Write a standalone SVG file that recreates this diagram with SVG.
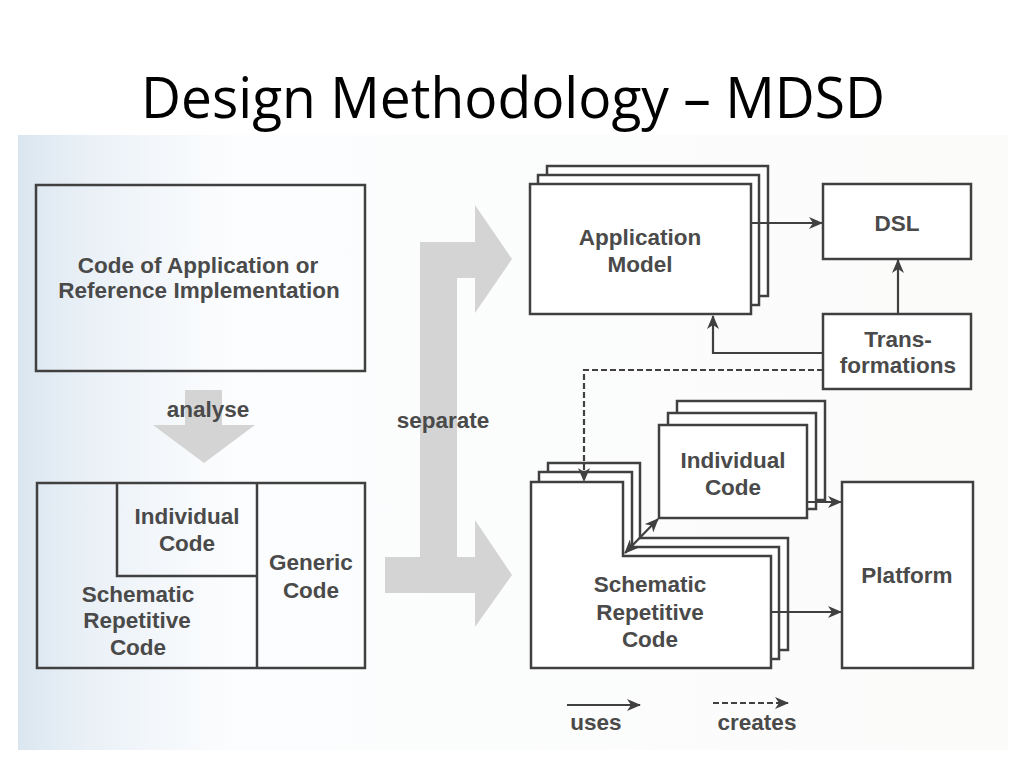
<svg xmlns="http://www.w3.org/2000/svg" width="1024" height="768" viewBox="0 0 1024 768">
<defs>
<linearGradient id="scan" x1="0" y1="0" x2="1" y2="0">
<stop offset="0" stop-color="#dae6ef"/>
<stop offset="0.05" stop-color="#e6eef5"/>
<stop offset="0.13" stop-color="#f2f6fa"/>
<stop offset="0.22" stop-color="#fcfdfe"/>
<stop offset="1" stop-color="#fbfbfa"/>
</linearGradient>
<marker id="ah" viewBox="0 0 14 12" refX="13" refY="6" markerWidth="14" markerHeight="12" markerUnits="userSpaceOnUse" orient="auto-start-reverse">
<path d="M0,0 L14,6 L0,12 L4,6 z" fill="#404040"/>
</marker>
</defs>
<style>
.box{fill:#ffffff;stroke:#404040;stroke-width:2.5}
.open{fill:none;stroke:#404040;stroke-width:2.5}
.lbl{font-family:"Liberation Sans",Arial,sans-serif;font-weight:bold;font-size:22.5px;fill:#4a4a4a;text-anchor:middle}
.big{fill:#d4d4d4}
.con{fill:none;stroke:#404040;stroke-width:2.2}
.dash{stroke-dasharray:6 3}
.title{font-family:"Open Sans","Noto Sans",sans-serif;font-size:56px;fill:#000000;text-anchor:middle}
</style>
<rect x="0" y="0" width="1024" height="768" fill="#ffffff"/>
<text class="title" x="513" y="118" textLength="744" lengthAdjust="spacingAndGlyphs">Design Methodology – MDSD</text>
<rect x="18" y="135" width="990" height="615" fill="url(#scan)"/>

<g id="code-of-application">
<rect class="open" x="36" y="185" width="329" height="186"/>
<text class="lbl" x="198" y="273">Code of Application or</text>
<text class="lbl" x="199" y="298">Reference Implementation</text>
</g>

<g id="analyse-arrow">
<path class="big" d="M185,390 L222,390 L222,425 L255,425 L204,463 L153,425 L185,425 Z"/>
<text class="lbl" x="208" y="417">analyse</text>
</g>

<g id="analysed-code">
<rect class="open" x="37" y="483" width="328" height="185"/>
<line class="open" x1="257" y1="483" x2="257" y2="668"/>
<polyline class="open" points="117,483 117,576 257,576"/>
<text class="lbl" x="187" y="524">Individual</text>
<text class="lbl" x="187" y="551">Code</text>
<text class="lbl" x="311" y="570">Generic</text>
<text class="lbl" x="311" y="598">Code</text>
<text class="lbl" x="138" y="602">Schematic</text>
<text class="lbl" x="137" y="628">Repetitive</text>
<text class="lbl" x="138" y="655">Code</text>
</g>

<g id="separate-arrow">
<path class="big" d="M420,242 L475,242 L475,205 L512,259 L475,313 L475,278 L457,278 L457,557 L475,557 L475,520 L512,575 L475,627 L475,593 L385,593 L385,557 L420,557 Z"/>
<text class="lbl" x="443" y="428">separate</text>
</g>

<g id="application-model">
<rect class="box" x="547" y="166" width="221" height="130"/>
<rect class="box" x="538" y="175" width="221" height="130"/>
<rect class="box" x="530" y="184" width="221" height="130"/>
<text class="lbl" x="640" y="245">Application</text>
<text class="lbl" x="640" y="272">Model</text>
</g>

<g id="dsl">
<rect class="box" x="823" y="184" width="148" height="75"/>
<text class="lbl" x="897" y="231">DSL</text>
</g>

<g id="transformations">
<rect class="box" x="823" y="314" width="148" height="75"/>
<text class="lbl" x="898" y="347">Trans-</text>
<text class="lbl" x="898" y="373">formations</text>
</g>

<g id="individual-code">
<rect class="box" x="677" y="401" width="148" height="99"/>
<rect class="box" x="668" y="413" width="148" height="96"/>
<rect class="box" x="659" y="425" width="148" height="93"/>
<text class="lbl" x="733" y="468">Individual</text>
<text class="lbl" x="733" y="495">Code</text>
</g>

<g id="schematic-code">
<path class="box" d="M548,463 L640,463 L640,538 L788,538 L788,650 L548,650 Z"/>
<path class="box" d="M539,472 L632,472 L632,547 L779,547 L779,659 L539,659 Z"/>
<path class="box" d="M531,482 L623,482 L623,556 L771,556 L771,668 L531,668 Z"/>
<text class="lbl" x="650" y="592">Schematic</text>
<text class="lbl" x="650" y="620">Repetitive</text>
<text class="lbl" x="650" y="647">Code</text>
</g>

<g id="platform">
<rect class="box" x="842" y="482" width="131" height="186"/>
<text class="lbl" x="907" y="583">Platform</text>
</g>

<g id="connectors">
<line class="con" x1="751" y1="223" x2="822" y2="223" marker-end="url(#ah)"/>
<line class="con" x1="898" y1="314" x2="898" y2="260" marker-end="url(#ah)"/>
<polyline class="con" points="823,353 713,353 713,316" marker-end="url(#ah)"/>
<polyline class="con dash" points="823,370 584,370 584,481" marker-end="url(#ah)"/>
<line class="con" x1="807" y1="502" x2="841" y2="502" marker-end="url(#ah)"/>
<line class="con" x1="771" y1="612" x2="841" y2="612" marker-end="url(#ah)"/>
<line class="con" x1="625" y1="553" x2="658" y2="519" marker-start="url(#ah)" marker-end="url(#ah)"/>
</g>

<g id="legend">
<line class="con" x1="567" y1="705" x2="640" y2="705" marker-end="url(#ah)"/>
<text class="lbl" x="596" y="730">uses</text>
<line class="con dash" x1="713" y1="703" x2="788" y2="703" marker-end="url(#ah)"/>
<text class="lbl" x="757" y="730">creates</text>
</g>
</svg>
